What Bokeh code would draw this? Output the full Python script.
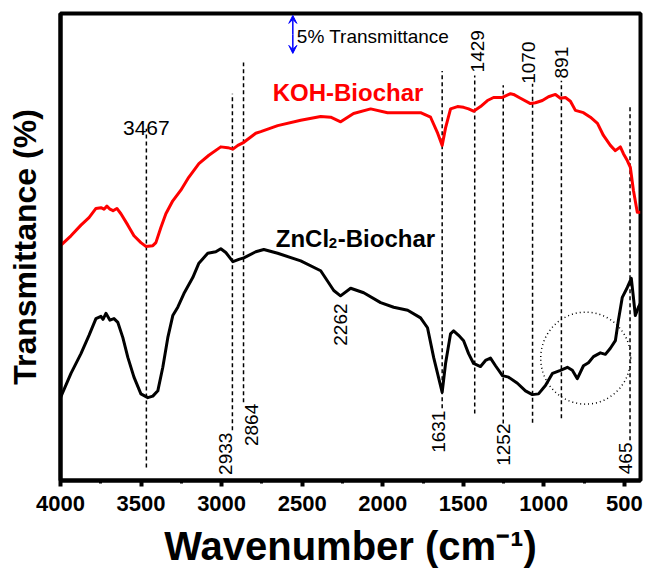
from bokeh.plotting import figure
from bokeh.models import Range1d, FixedTicker, Arrow, VeeHead
from bokeh.core.properties import value
from bokeh.embed import file_html
from bokeh.resources import INLINE

FONT = "Liberation Sans"

# FTIR spectra: wavenumber (cm-1) and transmittance (%, offset for stacking)
koh_wavenumber = [4000, 3935, 3873, 3823, 3780, 3749, 3730, 3712, 3693, 3674, 3650, 3625,
                  3582, 3544, 3501, 3470, 3427, 3408, 3377, 3346, 3303, 3253, 3204, 3141,
                  3079, 3005, 2962, 2930, 2899, 2862, 2788, 2757, 2652, 2509, 2385, 2323,
                  2261, 2181, 2075, 1970, 1765, 1703, 1659, 1631, 1610, 1579, 1536, 1498,
                  1467, 1436, 1393, 1350, 1312, 1257, 1207, 1188, 1145, 1083, 1052, 1009,
                  971, 928, 897, 866, 835, 804, 754, 711, 667, 630, 587, 556, 525, 506,
                  482, 463, 444, 420, 401]
koh_transmittance = [30.9, 32.2, 33.6, 34.6, 35.8, 35.9, 35.7, 36.1, 35.7, 35.5, 35.8, 35.1,
                     33.6, 32.2, 31.3, 30.8, 30.9, 31.3, 33.3, 35.1, 36.8, 38.2, 39.9, 41.7,
                     42.8, 43.9, 43.8, 43.6, 44.1, 44.5, 45.7, 45.9, 46.7, 47.4, 47.9, 47.8,
                     47.2, 48.3, 48.9, 48.4, 48.4, 47.8, 45.7, 44.1, 46.4, 48.9, 49.2, 49.1,
                     48.9, 48.6, 49.2, 50.0, 50.4, 50.4, 50.9, 50.8, 50.3, 49.6, 49.7, 50.0,
                     50.5, 50.8, 50.3, 50.4, 49.9, 48.7, 48.4, 47.8, 47.0, 45.4, 44.1, 43.4,
                     43.9, 43.0, 42.1, 41.2, 38.2, 35.3, 35.3]

zncl2_wavenumber = [4000, 3935, 3873, 3823, 3780, 3749, 3736, 3718, 3693, 3668, 3644, 3613,
                    3582, 3544, 3501, 3458, 3427, 3396, 3365, 3334, 3303, 3272, 3234, 3179,
                    3141, 3086, 3036, 3005, 2974, 2930, 2893, 2862, 2788, 2738, 2652, 2509,
                    2385, 2304, 2262, 2199, 2118, 2013, 1932, 1845, 1765, 1722, 1684, 1631,
                    1610, 1579, 1560, 1529, 1498, 1467, 1436, 1393, 1362, 1331, 1300, 1257,
                    1219, 1164, 1114, 1071, 1033, 990, 946, 897, 854, 823, 792, 754, 723,
                    692, 649, 618, 587, 556, 537, 513, 482, 457, 444, 432, 413, 401]
zncl2_transmittance = [10.9, 14.1, 16.7, 19.1, 21.3, 21.6, 21.2, 22.0, 21.1, 21.3, 20.8, 18.8,
                       16.2, 13.6, 11.4, 10.9, 11.1, 11.8, 14.9, 18.8, 21.7, 22.8, 24.6, 26.7,
                       28.6, 29.9, 30.1, 30.5, 30.0, 28.8, 29.1, 29.3, 30.1, 30.4, 29.9, 28.9,
                       27.6, 25.0, 24.3, 25.3, 24.7, 23.4, 22.8, 22.4, 21.4, 20.1, 16.2, 11.6,
                       15.4, 19.3, 19.7, 19.1, 18.4, 16.7, 15.4, 15.0, 15.8, 16.1, 15.1, 13.8,
                       13.6, 12.8, 11.8, 11.3, 11.4, 12.5, 14.1, 14.5, 14.9, 14.5, 13.4, 15.1,
                       15.5, 16.3, 16.8, 16.6, 17.4, 18.4, 21.1, 24.1, 25.4, 26.6, 24.1, 21.7,
                       22.8, 23.3]

# assigned bands (dashed guide lines)
band_wavenumber = [3467, 2933, 2864, 1631, 1429, 1252, 1070, 891, 465]
band_top = [46.3, 50.9, 55.0, 53.9, 53.3, 52.0, 52.2, 52.6, 49.1]
band_bottom = [1.7, 6.6, 10.3, 9.5, 8.8, 7.5, 7.6, 8.2, 5.3]

# band labels written upward, ending just under a line
low_text = ["2933", "2864", "2262", "1631", "1252", "465"]
low_x = [2933, 2864, 2262, 1631, 1252, 465]
low_y = [6.3, 10.1, 23.3, 9.2, 7.5, 5.0]
low_dx = [-7, 8, 0, -4, 0, -5]

# band labels written upward, starting just above a line
high_text = ["1429", "1070", "891"]
high_x = [1429, 1070, 891]
high_y = [53.7, 52.2, 52.9]
high_dx = [2.5, -4.5, 0]

x_major = [4000, 3500, 3000, 2500, 2000, 1500, 1000, 500]
x_minor = [3750, 3250, 2750, 2250, 1750, 1250, 750]

p = figure(width=645, height=583, output_backend="svg", toolbar_location=None,
           x_range=Range1d(4000, 400), y_range=Range1d(0, 61.45),
           min_border_left=60, min_border_right=5, min_border_top=13,
           min_border_bottom=103)
p.background_fill_color = "white"
p.border_fill_color = "white"
p.outline_line_color = "black"
p.outline_line_width = 4
p.grid.visible = False

# x axis
xa = p.xaxis[0]
xa.ticker = FixedTicker(ticks=x_major, minor_ticks=x_minor)
xa.axis_line_width = 4
xa.major_tick_in = 0
xa.major_tick_out = 6
xa.major_tick_line_width = 4
xa.minor_tick_in = 0
xa.minor_tick_out = 3
xa.minor_tick_line_width = 3
xa.major_label_text_font = FONT
xa.major_label_text_font_style = "bold"
xa.major_label_text_font_size = "22px"
xa.major_label_text_color = "black"
xa.major_label_standoff = 9
xa.axis_label = "Wavenumber (cm\u207b\u00b9)"
xa.axis_label_text_font = FONT
xa.axis_label_text_font_style = "bold"
xa.axis_label_text_font_size = "40px"
xa.axis_label_text_color = "black"
xa.axis_label_standoff = 10

# y axis: no ticks
ya = p.yaxis[0]
ya.ticker = FixedTicker(ticks=[])
ya.axis_line_width = 4
ya.major_tick_in = 0
ya.major_tick_out = 0
ya.minor_tick_in = 0
ya.minor_tick_out = 0
ya.major_label_text_font_size = "0px"
ya.axis_label = "Transmittance (%)"
ya.axis_label_text_font = FONT
ya.axis_label_text_font_style = "bold"
ya.axis_label_text_font_size = "32px"
ya.axis_label_text_color = "black"
ya.axis_label_standoff = 18

# dashed band guides
p.segment(x0=band_wavenumber, y0=band_bottom, x1=band_wavenumber, y1=band_top,
          line_color="black", line_width=1.5, line_dash="4 3")

# spectra
p.line(koh_wavenumber, koh_transmittance, line_color="#ff0000", line_width=3,
       line_join="round")
p.line(zncl2_wavenumber, zncl2_transmittance, line_color="black", line_width=3,
       line_join="round")

# dotted circle around the fingerprint region
p.ellipse(x=740, y=16.1, width=90, height=92, width_units="screen",
          height_units="screen", fill_alpha=0, line_color="black",
          line_width=1.5, line_dash="1 3")

# band labels
p.text(x=[3467], y=[46.4], text=["3467"], text_align="center",
       text_baseline="alphabetic", text_font=value(FONT), text_font_size="21px",
       text_color="black")
p.text(x=low_x, y=low_y, text=low_text, angle=1.5708, x_offset=low_dx,
       text_align="right", text_baseline="middle", text_font=value(FONT),
       text_font_size="19px", text_color="black")
p.text(x=high_x, y=high_y, text=high_text, angle=1.5708, x_offset=high_dx,
       text_align="left", text_baseline="middle", text_font=value(FONT),
       text_font_size="19px", text_color="black")

# sample names
p.text(x=[2683], y=[51.05], text=["KOH-Biochar"], text_align="left",
       text_baseline="middle", text_font=value(FONT), text_font_style="bold",
       text_font_size="24px", text_color="#ff0000")
p.text(x=[2664], y=[31.9], text=["ZnCl"], text_align="left",
       text_baseline="middle", text_font=value(FONT), text_font_style="bold",
       text_font_size="24px", text_color="black")
p.text(x=[2664], y=[31.9], text=["2"], x_offset=53, y_offset=5, text_align="left",
       text_baseline="middle", text_font=value(FONT), text_font_style="bold",
       text_font_size="15px", text_color="black")
p.text(x=[2664], y=[31.9], text=["-Biochar"], x_offset=62, text_align="left",
       text_baseline="middle", text_font=value(FONT), text_font_style="bold",
       text_font_size="24px", text_color="black")

# 5 % transmittance scale bar
scale_x = 2558
p.add_layout(Arrow(x_start=scale_x, y_start=58.7, x_end=scale_x, y_end=61.2,
                   line_color="blue", line_width=1.5,
                   end=VeeHead(size=8, fill_color="blue", line_color="blue", line_width=1)))
p.add_layout(Arrow(x_start=scale_x, y_start=58.7, x_end=scale_x, y_end=56.2,
                   line_color="blue", line_width=1.5,
                   end=VeeHead(size=8, fill_color="blue", line_color="blue", line_width=1)))
p.text(x=[scale_x], y=[58.4], text=["5% Transmittance"], x_offset=4,
       text_align="left", text_baseline="middle", text_font=value(FONT),
       text_font_size="19px", text_color="black")

open("out.html", "w").write(file_html(p, INLINE))
